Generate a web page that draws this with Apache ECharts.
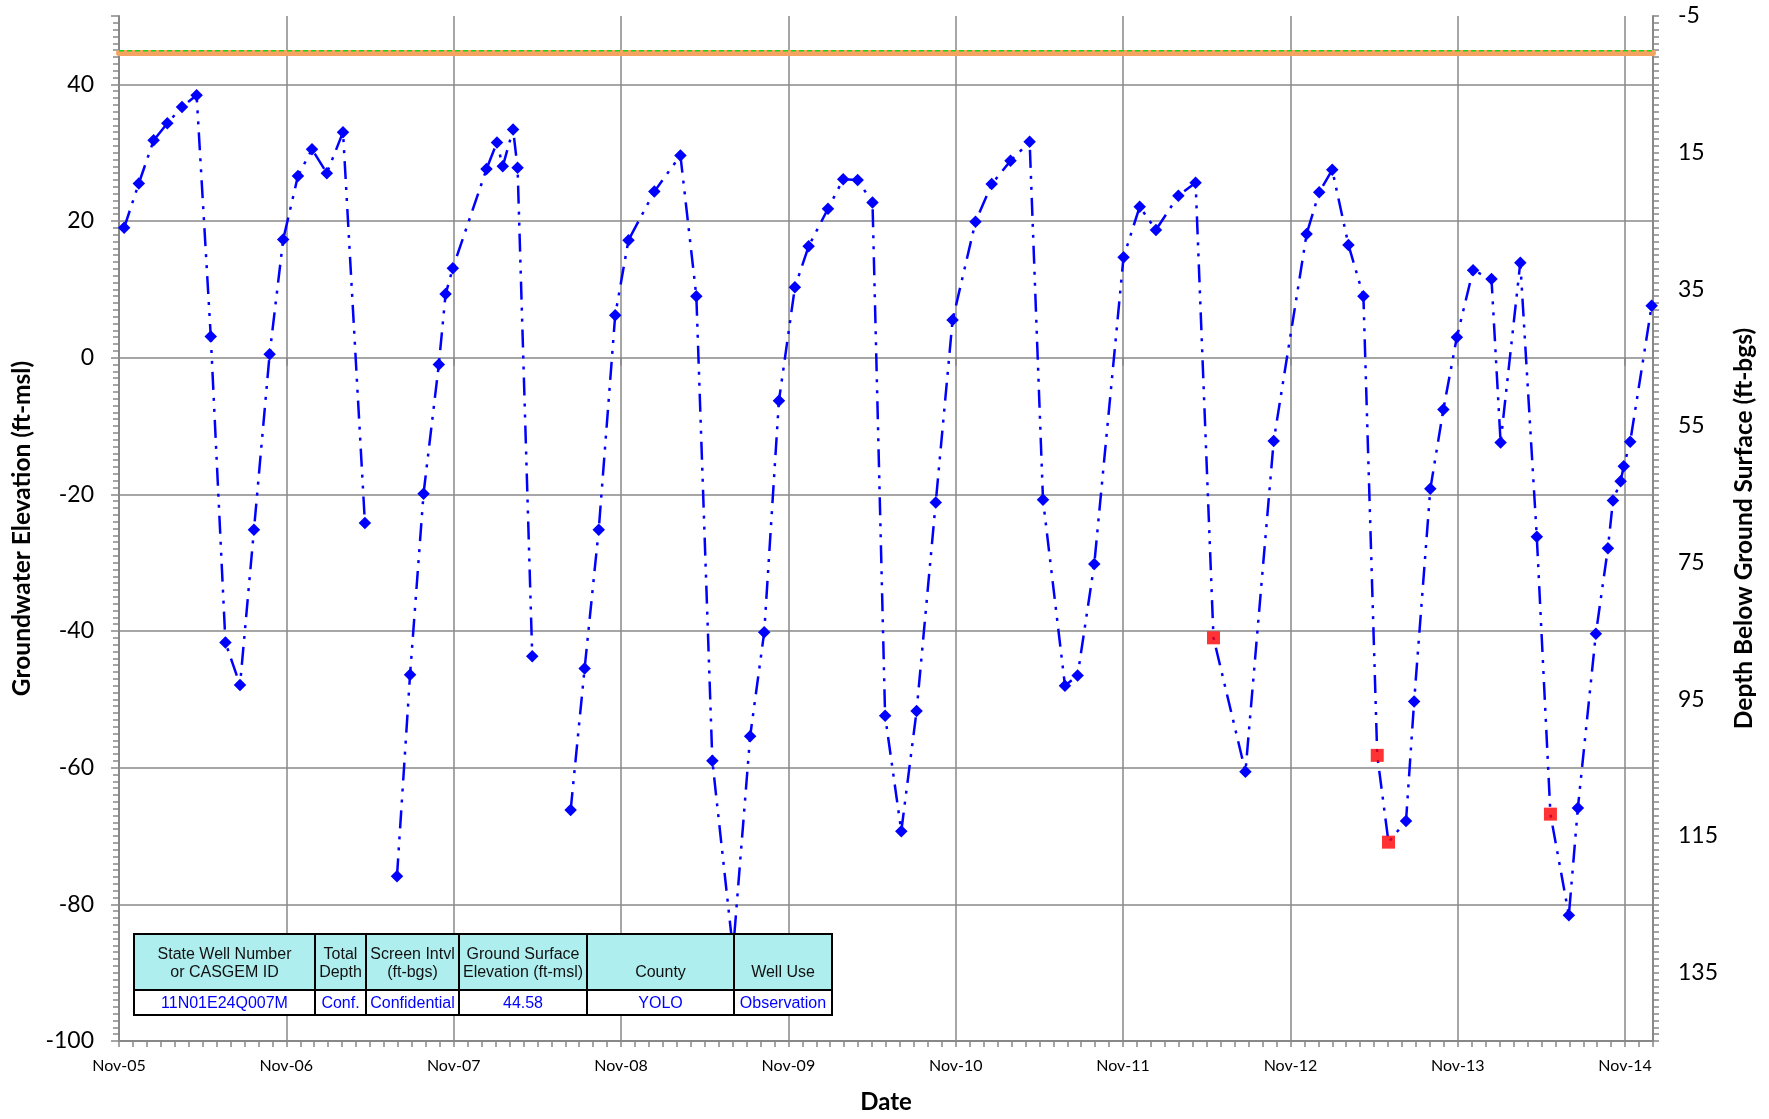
<!DOCTYPE html>
<html><head><meta charset="utf-8">
<script src="https://cdn.jsdelivr.net/npm/echarts@6/dist/echarts.min.js"></script>
<style>html,body{margin:0;padding:0;background:#fff}#c{width:1769px;height:1119px}</style>
</head><body><div id="c"></div>
<script>
// ---------------- DATA ----------------
const dates = [
 '2005-11-12','2005-12-14','2006-01-16','2006-02-14','2006-03-17','2006-04-18','2006-05-19','2006-06-20','2006-07-22','2006-08-22',
 '2006-09-25','2006-10-25','2006-11-26','2006-12-27','2007-01-29','2007-03-03','2007-04-20','2007-05-25','2007-06-29','2007-07-28',
 '2007-08-27','2007-09-29','2007-10-14','2007-10-30','2008-01-12','2008-02-04','2008-02-16','2008-03-09','2008-03-19','2008-04-20',
 '2008-05-30','2008-07-13','2008-08-13','2008-09-13','2008-10-19','2008-11-17','2009-01-13','2009-03-09','2009-04-13','2009-05-18',
 '2009-07-02','2009-08-09','2009-09-09','2009-10-11','2009-11-15','2009-12-15','2010-01-27','2010-02-27','2010-03-31','2010-05-02',
 '2010-05-30','2010-07-04','2010-08-07','2010-09-18','2010-10-25','2010-12-14','2011-01-19','2011-02-27','2011-04-10','2011-05-09',
 '2011-06-26','2011-07-24','2011-08-30','2011-11-02','2011-12-07','2012-01-12','2012-02-29','2012-04-07','2012-05-16','2012-07-25',
 '2012-09-25','2012-12-06','2013-01-03','2013-02-01','2013-03-06','2013-04-08','2013-05-08','2013-06-02','2013-07-10','2013-07-28',
 '2013-09-02','2013-09-30','2013-10-30','2013-12-04','2014-01-14','2014-02-03','2014-03-16','2014-04-21','2014-05-21','2014-06-30',
 '2014-07-20','2014-08-29','2014-09-24','2014-10-05','2014-10-22','2014-10-29','2014-11-12','2014-12-29'
];
const elevations = [
 19.0, 25.5, 31.8, 34.3, 36.7, 38.4, 3.1, -41.7, -47.9, -25.2,
 0.5, 17.3, 26.6, 30.5, 27.0, 33.0, -24.2, null, -75.9, -46.4,
 -19.9, -1.0, 9.3, 13.1, 27.6, 31.5, 28.0, 33.4, 27.8, -43.7,
 null, -66.2, -45.5, -25.2, 6.2, 17.2, 24.3, 29.6, 9.0, -59.0,
 -86.8, -55.4, -40.2, -6.3, 10.3, 16.3, 21.8, 26.1, 26.0, 22.7,
 -52.4, -69.3, -51.7, -21.2, 5.5, 19.9, 25.4, 28.8, 31.6, -20.8,
 -48.0, -46.5, -30.2, 14.7, 22.1, 18.7, 23.7, 25.6, -41.0, -60.6,
 -12.2, 18.1, 24.2, 27.5, 16.5, 9.0, -58.2, -70.9, -67.8, -50.3,
 -19.2, -7.6, 3.0, 12.8, 11.5, -12.4, 13.9, -26.2, -66.8, -81.6,
 -65.9, -40.4, -27.9, -20.9, -18.1, -15.9, -12.3, 7.6
];
const questionableDates = ['2012-05-16','2013-05-08','2013-06-02','2014-05-21'];
const xTickLabels = ['Nov-05','Nov-06','Nov-07','Nov-08','Nov-09','Nov-10','Nov-11','Nov-12','Nov-13','Nov-14'];
const elevTickLabels = [-100,-80,-60,-40,-20,0,20,40];
const depthTickLabels = [-5,15,35,55,75,95,115,135];
const groundSurfaceElevation = 44.58;
const referencePointElevation = 44.9;
const axisStartDate = '2005-11-01';
const axisEndDate = '2015-01-01';
const tableHeaders = ['State Well Number\nor CASGEM ID','Total\nDepth','Screen Intvl\n(ft-bgs)','Ground Surface\nElevation (ft-msl)','County','Well Use'];
const tableValues = ['11N01E24Q007M','Conf.','Confidential','44.58','YOLO','Observation'];

// ---------------- HELPERS ----------------
function monthIndex(s){
  const p = s.split('-').map(Number);
  const dim = new Date(p[0], p[1], 0).getDate();
  return (p[0]-2005)*12 + (p[1]-11) + (p[2]-1)/dim;
}
const xMin = monthIndex(axisStartDate), xMax = monthIndex(axisEndDate);
const qSet = new Set(questionableDates);
const mainData = dates.map((d,i)=>{
  const item = {value:[monthIndex(d), elevations[i]]};
  if (qSet.has(d)) item.symbol = 'none';
  return item;
});
const qData = dates.map((d,i)=>qSet.has(d)?[monthIndex(d), elevations[i]]:null).filter(Boolean);

// ---------------- LAYOUT ----------------
const GRAY = '#888888';
const AXFONT = 'Lato';
const tbl = {left:134, top:934, headH:56, rowH:25, widths:[181,51,93,128,147,98]};
const graphics = [];
(function(){
  let x = tbl.left;
  tbl.widths.forEach((w,i)=>{
    graphics.push({type:'rect', z:100, shape:{x:x, y:tbl.top, width:w, height:tbl.headH},
      style:{fill:'#AFEEEE', stroke:'#000', lineWidth:2}});
    graphics.push({type:'rect', z:100, shape:{x:x, y:tbl.top+tbl.headH, width:w, height:tbl.rowH},
      style:{fill:'#fff', stroke:'#000', lineWidth:2}});
    graphics.push({type:'text', z:101, x:x+w/2, y:tbl.top+48,
      style:{text:tableHeaders[i], fill:'#111', fontFamily:'Liberation Sans, Arial', fontSize:16,
        lineHeight:18.4, align:'center', verticalAlign:'bottom'}});
    graphics.push({type:'text', z:101, x:x+w/2, y:tbl.top+tbl.headH+tbl.rowH/2+1,
      style:{text:tableValues[i], fill:'#0000ff', fontFamily:'Liberation Sans, Arial', fontSize:16,
        align:'center', verticalAlign:'middle'}});
    x += w;
  });
})();

const chart = echarts.init(document.getElementById('c'), null, {renderer:'canvas'});
chart.setOption({
  animation:false,
  backgroundColor:'#fff',
  grid:{left:119, right:116, top:16, bottom:76, containLabel:false},
  xAxis:[
    {type:'value', min:xMin, max:xMax, interval:1, position:'bottom',
     name:'Date', nameLocation:'middle', nameGap:49,
     nameTextStyle:{fontFamily:AXFONT, fontWeight:'bold', fontSize:24, color:'#000'},
     axisLine:{show:true, onZero:false, lineStyle:{color:GRAY, width:2}},
     axisTick:{show:true, length:6, lineStyle:{color:GRAY, width:1.5}},
     axisLabel:{margin:17, fontFamily:AXFONT, fontSize:16, color:'#000',
       formatter:v=>{const k=Math.round(v); return (k%12===0 && xTickLabels[k/12]!==undefined)?xTickLabels[k/12]:'';}},
     splitLine:{show:false}},
    {type:'value', min:xMin, max:xMax, interval:12, position:'bottom',
     axisLine:{show:false}, axisLabel:{show:false},
     axisTick:{show:true, length:8, lineStyle:{color:GRAY, width:1.5}},
     splitLine:{show:true, showMaxLine:false, lineStyle:{color:GRAY, width:1.5}}}
  ],
  yAxis:[
    {type:'value', min:-100, max:50, interval:10, position:'left',
     name:'Groundwater Elevation (ft-msl)', nameLocation:'middle', nameGap:84, nameRotate:90,
     nameTextStyle:{fontFamily:AXFONT, fontWeight:'bold', fontSize:24.5, color:'#000'},
     axisLine:{show:true, onZero:false, lineStyle:{color:GRAY, width:2}},
     axisTick:{show:true, length:6, lineStyle:{color:GRAY, width:1.5}},
     minorTick:{show:true, splitNumber:10, length:6, lineStyle:{color:GRAY, width:1.5}},
     axisLabel:{margin:25, fontFamily:AXFONT, fontSize:23, color:'#000',
       formatter:v=>elevTickLabels.indexOf(Math.round(v))>=0?String(Math.round(v)):''},
     splitLine:{show:false}},
    {type:'value', min:-100, max:50, interval:20, position:'left',
     axisLine:{show:false}, axisLabel:{show:false},
     axisTick:{show:true, length:8, lineStyle:{color:GRAY, width:1.5}},
     splitLine:{show:true, showMaxLine:false, lineStyle:{color:GRAY, width:1.5}}},
    {type:'value', min:-5, max:145, interval:10, inverse:true, position:'right',
     name:'Depth Below Ground Surface (ft-bgs)', nameLocation:'middle', nameGap:79, nameRotate:90,
     nameTextStyle:{fontFamily:AXFONT, fontWeight:'bold', fontSize:24.5, color:'#000'},
     axisLine:{show:true, onZero:false, lineStyle:{color:GRAY, width:2}},
     axisTick:{show:true, length:6, lineStyle:{color:GRAY, width:1.5}},
     minorTick:{show:true, splitNumber:10, length:6, lineStyle:{color:GRAY, width:1.5}},
     axisLabel:{margin:25, fontFamily:AXFONT, fontSize:23, color:'#000',
       formatter:v=>depthTickLabels.indexOf(Math.round(v))>=0?String(Math.round(v)):''},
     splitLine:{show:false}}
  ],
  series:[
    {type:'line', name:'Ground Surface', xAxisIndex:0, yAxisIndex:0, silent:true,
     data:[[xMin, groundSurfaceElevation],[xMax, groundSurfaceElevation]], symbol:'none',
     lineStyle:{color:'#F4A460', width:6, cap:'round'}, z:2},
    {type:'line', name:'Reference Point', xAxisIndex:0, yAxisIndex:0, silent:true,
     data:[[xMin, referencePointElevation],[xMax, referencePointElevation]], symbol:'none',
     lineStyle:{color:'#11dd11', width:1.5, type:[5,3]}, z:3},
    {type:'line', name:'Groundwater Elevation', xAxisIndex:0, yAxisIndex:0,
     data:mainData, connectNulls:false, symbol:'diamond', symbolSize:12.5, showSymbol:true,
     itemStyle:{color:'#0000ff'},
     lineStyle:{color:'#0000ff', width:2.5, type:[18,8,3,8,3,8]}, z:4},
    {type:'scatter', name:'Questionable', xAxisIndex:0, yAxisIndex:0,
     data:qData, symbol:'rect', symbolSize:13, itemStyle:{color:'#ff0000'}, z:5}
  ],
  graphic:graphics
});
</script></body></html>
